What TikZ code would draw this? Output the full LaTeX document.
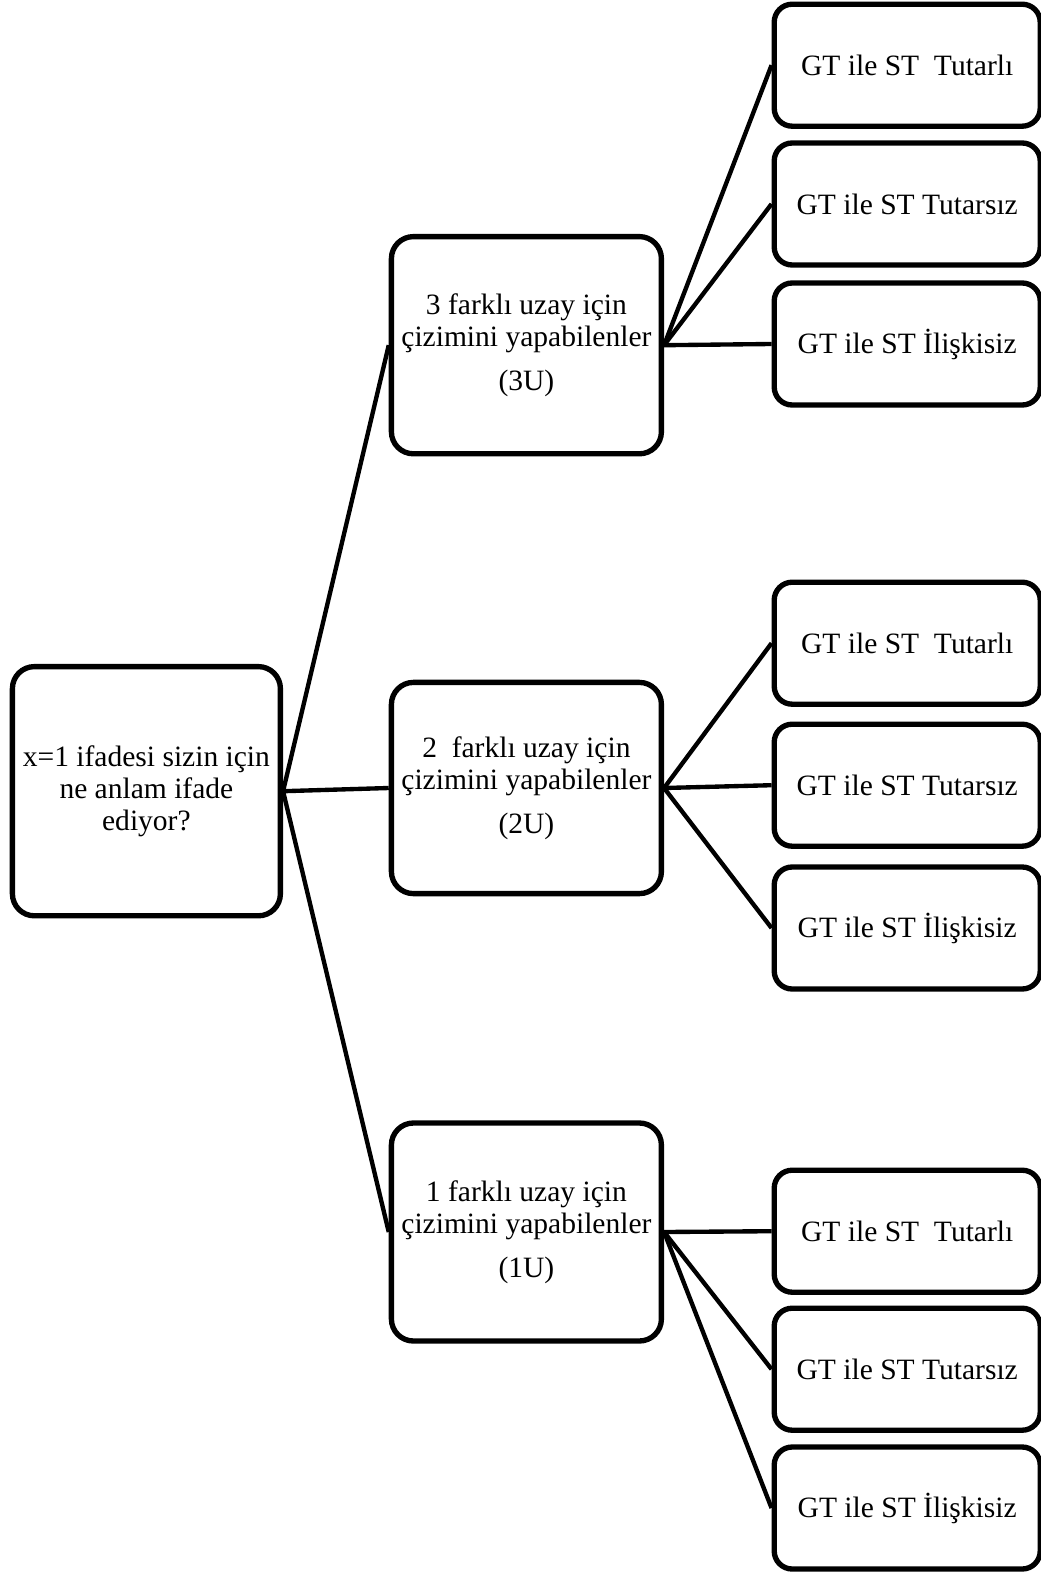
\documentclass[tikz,border=0pt]{standalone}
\usepackage{fontspec}
\setmainfont{Liberation Serif}
\usepackage{tikz}

\tikzset{
	kutu/.style={rectangle,draw=black,line width=3.8pt,rounded corners=0.55cm,align=center,inner sep=0pt},
	yaprak/.style={kutu,minimum width=6.65cm,minimum height=3.05cm,rounded corners=0.45cm},
	orta/.style={kutu,minimum width=6.75cm},
	baglanti/.style={draw=black,line width=3.1pt}
}

\begin{document}
\begin{tikzpicture}
	\fontsize{21}{23}\selectfont
	\useasboundingbox (0,0) rectangle (26,-39.325);
	\path (3.66,-19.78) node(kok)[kutu,minimum width=6.7cm,minimum height=6.23cm]{x=1 ifadesi sizin için\\ ne anlam ifade\\ ediyor?}
	(13.16,-8.63) node(u3)[orta,minimum height=5.43cm]{3 farklı uzay için\\ çizimini yapabilenler\\[0.28cm] (3U)}
	(13.16,-19.7) node(u2)[orta,minimum height=5.28cm]{2\ \ farklı uzay için\\ çizimini yapabilenler\\[0.28cm] (2U)}
	(13.16,-30.8) node(u1)[orta,minimum height=5.45cm]{1 farklı uzay için\\ çizimini yapabilenler\\[0.28cm] (1U)}
	% 3U dallari
	(22.68,-1.63) node(u3a)[yaprak]{GT ile ST\ \ Tutarlı}
	(22.68,-5.1) node(u3b)[yaprak]{GT ile ST Tutarsız}
	(22.68,-8.6) node(u3c)[yaprak]{GT ile ST İlişkisiz}
	% 2U dallari
	(22.68,-16.08) node(u2a)[yaprak]{GT ile ST\ \ Tutarlı}
	(22.68,-19.63) node(u2b)[yaprak]{GT ile ST Tutarsız}
	(22.68,-23.2) node(u2c)[yaprak]{GT ile ST İlişkisiz}
	% 1U dallari
	(22.68,-30.78) node(u1a)[yaprak]{GT ile ST\ \ Tutarlı}
	(22.68,-34.23) node(u1b)[yaprak]{GT ile ST Tutarsız}
	(22.68,-37.7) node(u1c)[yaprak]{GT ile ST İlişkisiz};
	\draw[baglanti](kok.east)--(u3.west);
	\draw[baglanti](kok.east)--(u2.west);
	\draw[baglanti](kok.east)--(u1.west);
	\draw[baglanti](u3.east)--(u3a.west);
	\draw[baglanti](u3.east)--(u3b.west);
	\draw[baglanti](u3.east)--(u3c.west);
	\draw[baglanti](u2.east)--(u2a.west);
	\draw[baglanti](u2.east)--(u2b.west);
	\draw[baglanti](u2.east)--(u2c.west);
	\draw[baglanti](u1.east)--(u1a.west);
	\draw[baglanti](u1.east)--(u1b.west);
	\draw[baglanti](u1.east)--(u1c.west);
\end{tikzpicture}
\end{document}
